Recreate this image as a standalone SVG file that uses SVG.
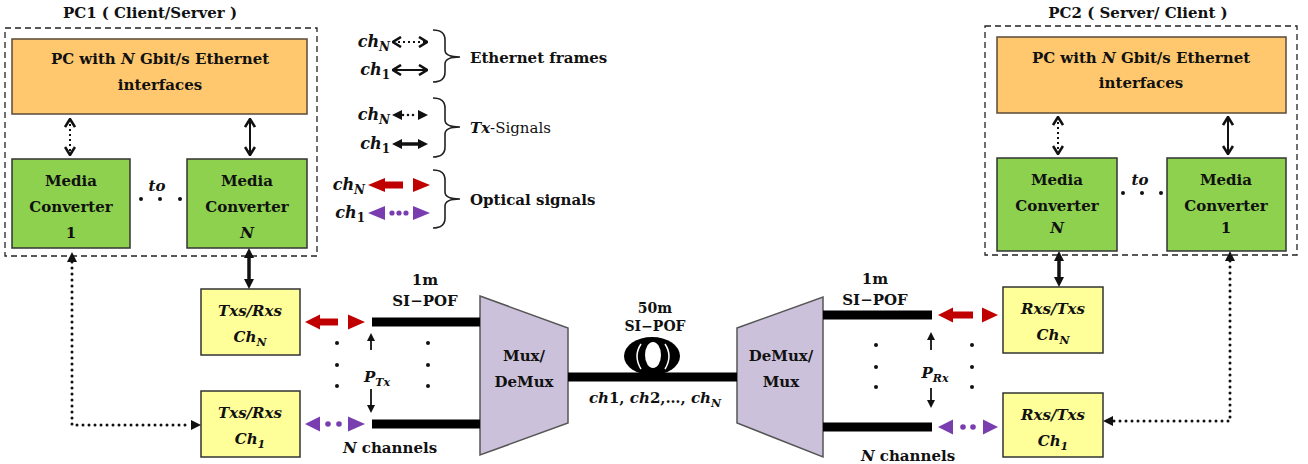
<svg xmlns="http://www.w3.org/2000/svg" width="1308" height="464" viewBox="0 0 1308 464">
<defs>
<style>
text{font-family:"DejaVu Serif","Liberation Serif",serif;font-weight:bold;font-size:15px;fill:#111;}
.t{text-anchor:middle;}
.i{font-style:italic;}
.sub{font-size:11px;font-style:italic;}
.sm{font-size:14px;}
.lg{font-size:16px;}
.lgs{font-size:12px;}
.dash{fill:none;stroke:#222;stroke-width:1.3;stroke-dasharray:6 4;}
.pc{fill:#FFC86E;stroke:#5a4a3a;stroke-width:1.5;}
.mc{fill:#8DD14F;stroke:#333;stroke-width:1.5;}
.tx{fill:#FFFF99;stroke:#333;stroke-width:1.5;}
.mux{fill:#CCC1DA;stroke:#555;stroke-width:1.5;}
.fib{stroke:#000;stroke-width:9;}
.dot{fill:#111;}
.eth{fill:none;stroke:#111;stroke-width:2;}
.ethd{fill:none;stroke:#111;stroke-width:2;stroke-dasharray:2 3;}
.sol{fill:none;stroke:#111;stroke-width:3.5;}
.dotl{fill:none;stroke:#111;stroke-width:3;stroke-linecap:round;stroke-dasharray:0 6;}
.thin{fill:none;stroke:#111;stroke-width:1.8;}
.brace{fill:none;stroke:#222;stroke-width:1.6;}
.red{fill:#C00000;}
.pur{fill:#7A3DB0;}
</style>
<marker id="chev" viewBox="0 0 10 12" refX="9" refY="6" markerWidth="10" markerHeight="12" markerUnits="userSpaceOnUse" orient="auto-start-reverse">
<path d="M1,1 L9,6 L1,11" fill="none" stroke="#111" stroke-width="2.6"/>
</marker>
<marker id="tri" viewBox="0 0 10 10" refX="0" refY="5" markerWidth="10" markerHeight="10" markerUnits="userSpaceOnUse" orient="auto-start-reverse">
<path d="M0,0 L10,5 L0,10 z" fill="#111"/>
</marker>
<marker id="tris" viewBox="0 0 10 10" refX="0" refY="5" markerWidth="8" markerHeight="8" markerUnits="userSpaceOnUse" orient="auto-start-reverse">
<path d="M0,0 L10,5 L0,10 z" fill="#111"/>
</marker>
</defs>
<rect width="1308" height="464" fill="#fff"/>

<g id="pc1">
<text class="t" x="150" y="18">PC1 ( Client/Server )</text>
<rect class="dash" x="5" y="28" width="312" height="228"/>
</g>
<g id="pc1-host">
<rect class="pc" x="12" y="39" width="295" height="75"/>
<text class="t" x="160" y="64">PC with <tspan class="i">N</tspan> Gbit/s Ethernet</text>
<text class="t" x="160" y="90">interfaces</text>
</g>
<g id="pc1-mc1">
<rect class="mc" x="12" y="159" width="118" height="89"/>
<text class="t" x="71" y="186">Media</text>
<text class="t" x="71" y="212">Converter</text>
<text class="t" x="71" y="238">1</text>
</g>
<g id="pc1-mcN">
<rect class="mc" x="187" y="159" width="120" height="89"/>
<text class="t" x="247" y="186">Media</text>
<text class="t" x="247" y="212">Converter</text>
<text class="t i" x="247" y="238">N</text>
</g>
<g id="pc1-to">
<text class="t i" x="157" y="191">to</text>
<circle class="dot" cx="141" cy="199" r="2"/><circle class="dot" cx="160" cy="199" r="2"/><circle class="dot" cx="180" cy="199" r="2"/>
</g>

<g id="pc2">
<text class="t" x="1138" y="18">PC2 ( Server/ Client )</text>
<rect class="dash" x="985" y="26" width="312" height="229"/>
</g>
<g id="pc2-host">
<rect class="pc" x="997" y="37" width="289" height="76"/>
<text class="t" x="1141" y="63">PC with <tspan class="i">N</tspan> Gbit/s Ethernet</text>
<text class="t" x="1141" y="88">interfaces</text>
</g>
<g id="pc2-mcN">
<rect class="mc" x="997" y="158" width="120" height="93"/>
<text class="t" x="1057" y="185">Media</text>
<text class="t" x="1057" y="211">Converter</text>
<text class="t i" x="1057" y="233">N</text>
</g>
<g id="pc2-mc1">
<rect class="mc" x="1167" y="158" width="119" height="93"/>
<text class="t" x="1226" y="185">Media</text>
<text class="t" x="1226" y="211">Converter</text>
<text class="t" x="1226" y="233">1</text>
</g>
<g id="pc2-to">
<text class="t i" x="1140" y="185">to</text>
<circle class="dot" cx="1123" cy="193" r="2"/><circle class="dot" cx="1142" cy="193" r="2"/><circle class="dot" cx="1161" cy="193" r="2"/>
</g>

<g id="txN">
<rect class="tx" x="201" y="289" width="99" height="66"/>
<text class="t i" x="250" y="316">Txs/Rxs</text>
<text class="t i" x="250" y="342">Ch<tspan class="sub" dy="4">N</tspan></text>
</g>
<g id="tx1">
<rect class="tx" x="201" y="391" width="99" height="66"/>
<text class="t i" x="250" y="418">Txs/Rxs</text>
<text class="t i" x="250" y="444">Ch<tspan class="sub" dy="4">1</tspan></text>
</g>
<g id="rxN">
<rect class="tx" x="1003" y="287" width="100" height="66"/>
<text class="t i" x="1053" y="314">Rxs/Txs</text>
<text class="t i" x="1053" y="340">Ch<tspan class="sub" dy="4">N</tspan></text>
</g>
<g id="rx1">
<rect class="tx" x="1003" y="393" width="100" height="64"/>
<text class="t i" x="1053" y="420">Rxs/Txs</text>
<text class="t i" x="1053" y="446">Ch<tspan class="sub" dy="4">1</tspan></text>
</g>

<g id="mux">
<polygon class="mux" points="480,296 568,328 568,423 480,455"/>
<text class="t" x="524" y="361">Mux/</text>
<text class="t" x="524" y="387">DeMux</text>
</g>
<g id="demux">
<polygon class="mux" points="737,328 823,297 823,457 737,423"/>
<text class="t" x="781" y="361">DeMux/</text>
<text class="t" x="781" y="387">Mux</text>
</g>

<g id="fiber50">
<line class="fib" x1="568" y1="377" x2="737" y2="377"/>
<ellipse cx="652" cy="356" rx="28" ry="19" fill="#000"/>
<ellipse cx="653" cy="355" rx="8" ry="13" fill="#fff"/>
<path d="M641,344 Q633,356 641,369" fill="none" stroke="#fff" stroke-width="1.5"/>
<path d="M665,344 Q673,356 665,369" fill="none" stroke="#fff" stroke-width="1.5"/>
<text class="t sm" x="655" y="313">50m</text>
<text class="t sm" x="655" y="331">SI−POF</text>
<text class="t" x="655" y="403"><tspan class="i">ch</tspan>1, <tspan class="i">ch</tspan>2,…, <tspan class="i">ch</tspan><tspan class="sub" dy="4">N</tspan></text>
</g>

<g id="fiber-left">
<line class="fib" x1="372" y1="322" x2="480" y2="322"/>
<line class="fib" x1="372" y1="424" x2="480" y2="424"/>
<text class="t" x="425" y="285">1m</text>
<text class="t" x="425" y="306">SI−POF</text>
<text class="t" x="390" y="453"><tspan class="i">N</tspan> channels</text>
<circle class="dot" cx="337" cy="343" r="2"/><circle class="dot" cx="337" cy="365" r="2"/><circle class="dot" cx="337" cy="386" r="2"/>
<circle class="dot" cx="428" cy="343" r="2"/><circle class="dot" cx="428" cy="365" r="2"/><circle class="dot" cx="428" cy="386" r="2"/>
<text class="t i" x="377" y="382">P<tspan class="sub" dy="4">Tx</tspan></text>
</g>
<g id="fiber-right">
<line class="fib" x1="823" y1="315" x2="932" y2="315"/>
<line class="fib" x1="823" y1="427" x2="932" y2="427"/>
<text class="t" x="875" y="284">1m</text>
<text class="t" x="875" y="305">SI−POF</text>
<text class="t" x="908" y="461"><tspan class="i">N</tspan> channels</text>
<circle class="dot" cx="876" cy="345" r="2"/><circle class="dot" cx="876" cy="367" r="2"/><circle class="dot" cx="876" cy="387" r="2"/>
<circle class="dot" cx="972" cy="345" r="2"/><circle class="dot" cx="972" cy="367" r="2"/><circle class="dot" cx="972" cy="387" r="2"/>
<text class="t i" x="935" y="378">P<tspan class="sub" dy="4">Rx</tspan></text>
</g>

<g id="connectors">
<line class="ethd" x1="70" y1="119" x2="70" y2="155" marker-start="url(#chev)" marker-end="url(#chev)"/>
<line class="eth" x1="250" y1="119" x2="250" y2="155" marker-start="url(#chev)" marker-end="url(#chev)"/>
<line class="ethd" x1="1058" y1="117" x2="1058" y2="154" marker-start="url(#chev)" marker-end="url(#chev)"/>
<line class="eth" x1="1228" y1="117" x2="1228" y2="154" marker-start="url(#chev)" marker-end="url(#chev)"/>
<line class="sol" x1="249" y1="258" x2="249" y2="279" marker-start="url(#tri)" marker-end="url(#tri)"/>
<line class="sol" x1="1059" y1="261" x2="1059" y2="277" marker-start="url(#tri)" marker-end="url(#tri)"/>
<path class="dotl" d="M72,262 V425 H191" marker-start="url(#tri)" marker-end="url(#tri)"/>
<path class="dotl" d="M1230,261 V421 H1113" marker-start="url(#tri)" marker-end="url(#tri)"/>
<line class="thin" x1="371" y1="350" x2="371" y2="341" marker-end="url(#tris)"/>
<line class="thin" x1="371" y1="389" x2="371" y2="405" marker-end="url(#tris)"/>
<line class="thin" x1="931" y1="350" x2="931" y2="340" marker-end="url(#tris)"/>
<line class="thin" x1="931" y1="388" x2="931" y2="400" marker-end="url(#tris)"/>
<polygon class="red" points="305,322 320,314.5 320,329.5"/>
<rect class="red" x="319" y="318.5" width="19" height="7"/>
<polygon class="red" points="348,314.5 365,322 348,329.5"/>
<polygon class="pur" points="305,424 320,416.5 320,431.5"/>
<circle class="pur" cx="328" cy="424" r="2.8"/><circle class="pur" cx="339" cy="424" r="2.8"/>
<polygon class="pur" points="348,416.5 365,424 348,431.5"/>
<polygon class="red" points="938,315 953,307.5 953,322.5"/>
<rect class="red" x="952" y="311.5" width="21" height="7"/>
<polygon class="red" points="982,307.5 998,315 982,322.5"/>
<polygon class="pur" points="938,427 953,419.5 953,434.5"/>
<circle class="pur" cx="963" cy="427" r="2.8"/><circle class="pur" cx="973" cy="427" r="2.8"/>
<polygon class="pur" points="983,419.5 998,427 983,434.5"/>
</g>

<g id="legend">
<text x="390" y="47" text-anchor="end" class="i lg">ch<tspan class="lgs" dy="4">N</tspan></text>
<line class="ethd" x1="393" y1="42" x2="427" y2="42" marker-start="url(#chev)" marker-end="url(#chev)"/>
<text x="390" y="75" text-anchor="end" class="i lg">ch<tspan class="lgs" dy="4" style="font-style:normal">1</tspan></text>
<line class="eth" x1="393" y1="70" x2="427" y2="70" marker-start="url(#chev)" marker-end="url(#chev)"/>
<path class="brace" d="M433,30 Q445,30 445,40 L445,50 Q445,57 460,57 Q445,57 445,64 L445,72 Q445,82 433,82"/>
<text x="470" y="63">Ethernet frames</text>

<text x="390" y="120" text-anchor="end" class="i lg">ch<tspan class="lgs" dy="4">N</tspan></text>
<line class="dotl" x1="403" y1="115" x2="418" y2="115" style="stroke-width:2.6;stroke-dasharray:0 5"/>
<polygon points="392,115 402,110 402,120" fill="#111"/>
<polygon points="418,110 428,115 418,120" fill="#111"/>
<text x="390" y="149" text-anchor="end" class="i lg">ch<tspan class="lgs" dy="4" style="font-style:normal">1</tspan></text>
<line class="sol" x1="402" y1="144" x2="418" y2="144" marker-start="url(#tri)" marker-end="url(#tri)"/>
<path class="brace" d="M433,98 Q445,98 445,108 L445,120 Q445,127 460,127 Q445,127 445,134 L445,147 Q445,157 433,157"/>
<text x="470" y="133"><tspan class="i">Tx</tspan><tspan style="font-weight:normal">-Signals</tspan></text>

<text x="365" y="190" text-anchor="end" class="i lg">ch<tspan class="lgs" dy="4">N</tspan></text>
<polygon class="red" points="368,185 385,178 385,192"/>
<rect class="red" x="384" y="181.5" width="19" height="7"/>
<polygon class="red" points="413,178 430,185 413,192"/>
<text x="365" y="218" text-anchor="end" class="i lg">ch<tspan class="lgs" dy="4" style="font-style:normal">1</tspan></text>
<polygon class="pur" points="368,213 385,206 385,220"/>
<circle class="pur" cx="392" cy="213" r="2.6"/><circle class="pur" cx="399" cy="213" r="2.6"/><circle class="pur" cx="406" cy="213" r="2.6"/>
<polygon class="pur" points="413,206 430,213 413,220"/>
<path class="brace" d="M433,170 Q445,170 445,180 L445,192 Q445,199 460,199 Q445,199 445,206 L445,218 Q445,228 433,228"/>
<text x="470" y="205">Optical signals</text>
</g>
</svg>
